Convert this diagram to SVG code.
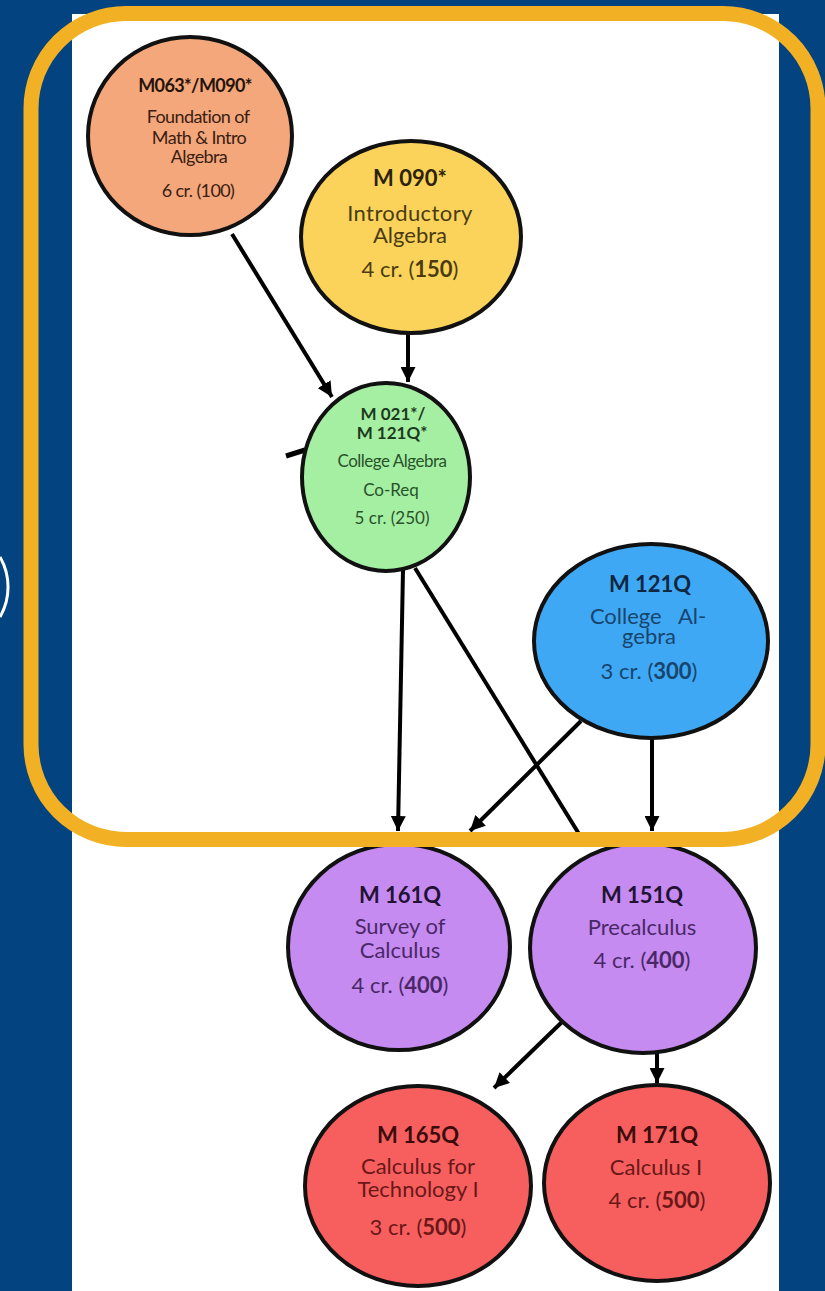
<svg xmlns="http://www.w3.org/2000/svg" width="825" height="1291" viewBox="0 0 825 1291">
<style>
.node{stroke:#111;stroke-width:4}
.t{font-family:Lato,"Liberation Sans",sans-serif;text-anchor:middle}
.b{font-weight:bold}
.ln{stroke:#000;stroke-width:4;fill:none}
</style>
<defs>
<marker id="ah" markerUnits="userSpaceOnUse" markerWidth="16" markerHeight="15" refX="15" refY="7.5" orient="auto">
<path d="M0,0 L15,7.5 L0,15 z" fill="#000"/>
</marker>
</defs>
<rect x="0" y="0" width="825" height="1291" fill="#03437f"/>
<rect x="72" y="14" width="707" height="1277" fill="#ffffff"/>
<path d="M0,557 A60,60 0 0 1 0,617" fill="none" stroke="#ffffff" stroke-width="3"/>

<g id="connectors">
<line class="ln" x1="232" y1="234" x2="332" y2="397" marker-end="url(#ah)"/>
<line class="ln" x1="408" y1="333" x2="408" y2="382" marker-end="url(#ah)"/>
<line x1="286" y1="456" x2="305" y2="450" stroke="#000" stroke-width="5"/>
<line class="ln" x1="403" y1="570" x2="398" y2="831" marker-end="url(#ah)"/>
<line class="ln" x1="415" y1="568" x2="584" y2="842"/>
<line class="ln" x1="581" y1="721" x2="470" y2="831" marker-end="url(#ah)"/>
<line class="ln" x1="652" y1="738" x2="652" y2="831" marker-end="url(#ah)"/>
<line class="ln" x1="564" y1="1020" x2="494" y2="1088" marker-end="url(#ah)"/>
<line class="ln" x1="657" y1="1052" x2="657" y2="1083" marker-end="url(#ah)"/>
</g>

<g id="n-m063">
<ellipse class="node" cx="190" cy="136" rx="102" ry="99" fill="#f4a77b"/>
<g class="t" fill="#3a2012" font-size="18" letter-spacing="-0.6">
<text x="195" y="92" class="b" fill="#24140b">M063*/M090*</text>
<text x="198" y="123">Foundation of</text>
<text x="199" y="144">Math &amp; Intro</text>
<text x="199" y="163">Algebra</text>
<text x="198" y="197">6 cr. (100)</text>
</g>
</g>

<g id="n-m090">
<ellipse class="node" cx="411" cy="237" rx="110" ry="96" fill="#fbd35b"/>
<g class="t" fill="#4a3c10" font-size="22">
<text x="410" y="186" class="b" fill="#2b2208">M 090*</text>
<text x="410" y="221" letter-spacing="0.4">Introductory</text>
<text x="410" y="243">Algebra</text>
<text x="410" y="277">4 cr. (<tspan class="b">150</tspan>)</text>
</g>
</g>

<g id="n-m021">
<ellipse class="node" cx="386" cy="477" rx="84" ry="94" fill="#a5efa3"/>
<g class="t" fill="#295229" font-size="17">
<text x="393" y="420" class="b" fill="#1c3a1c">M 021*/</text>
<text x="392" y="439" class="b" fill="#1c3a1c">M 121Q*</text>
<text x="392" y="467" letter-spacing="-0.5">College Algebra</text>
<text x="391" y="496">Co-Req</text>
<text x="392" y="524">5 cr. (250)</text>
</g>
</g>

<g id="n-m121q">
<ellipse class="node" cx="651" cy="641" rx="117" ry="97" fill="#3fa8f4"/>
<g class="t" fill="#17456e" font-size="22">
<text x="650" y="592" class="b" fill="#0f2740">M 121Q</text>
<text x="648" y="624" xml:space="preserve">College   Al-</text>
<text x="649" y="644">gebra</text>
<text x="649" y="679">3 cr. (<tspan class="b">300</tspan>)</text>
</g>
</g>

<g id="n-m161q">
<ellipse class="node" cx="399" cy="947" rx="111" ry="103" fill="#c68bf1"/>
<g class="t" fill="#4a2868" font-size="22">
<text x="400" y="903" class="b" fill="#221334">M 161Q</text>
<text x="400" y="934">Survey of</text>
<text x="400" y="958">Calculus</text>
<text x="400" y="993">4 cr. (<tspan class="b">400</tspan>)</text>
</g>
</g>

<g id="n-m151q">
<ellipse class="node" cx="643" cy="948" rx="113" ry="105" fill="#c68bf1"/>
<g class="t" fill="#4a2868" font-size="22">
<text x="642" y="903" class="b" fill="#221334">M 151Q</text>
<text x="642" y="935">Precalculus</text>
<text x="642" y="968">4 cr. (<tspan class="b">400</tspan>)</text>
</g>
</g>

<g id="n-m165q">
<ellipse class="node" cx="418" cy="1186" rx="113" ry="100" fill="#f75f5f"/>
<g class="t" fill="#6a1717" font-size="22">
<text x="418" y="1143" class="b" fill="#3a0c0c">M 165Q</text>
<text x="418" y="1174">Calculus for</text>
<text x="418" y="1197">Technology I</text>
<text x="418" y="1235">3 cr. (<tspan class="b">500</tspan>)</text>
</g>
</g>

<g id="n-m171q">
<ellipse class="node" cx="657" cy="1183" rx="113" ry="98" fill="#f75f5f"/>
<g class="t" fill="#6a1717" font-size="22">
<text x="657" y="1143" class="b" fill="#3a0c0c">M 171Q</text>
<text x="656" y="1175">Calculus I</text>
<text x="657" y="1208">4 cr. (<tspan class="b">500</tspan>)</text>
</g>
</g>

<rect x="31" y="13.5" width="787" height="826" rx="95" ry="95" fill="none" stroke="#f2b124" stroke-width="15"/>
</svg>
